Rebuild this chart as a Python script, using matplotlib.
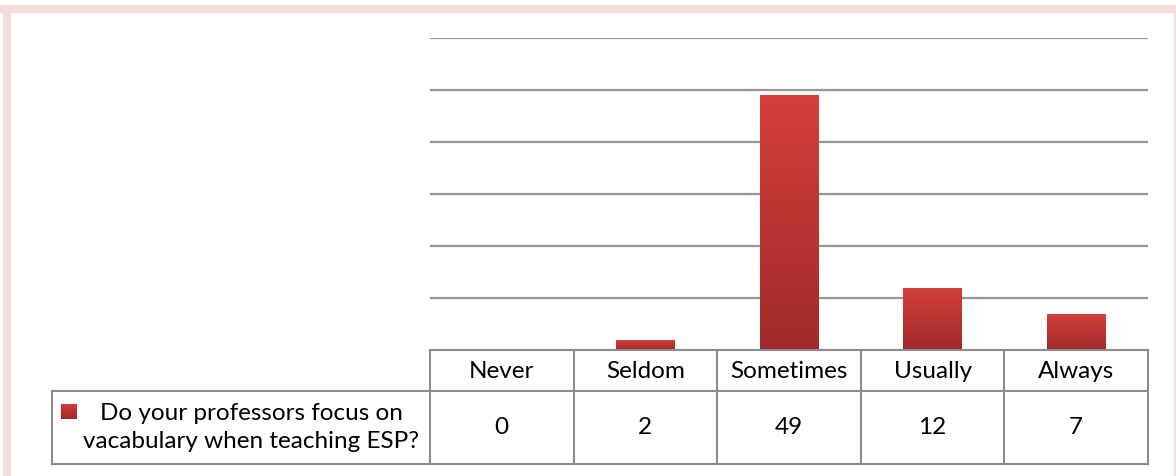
import numpy as np
import matplotlib.pyplot as plt
from matplotlib.lines import Line2D
from matplotlib.colors import LinearSegmentedColormap

categories = ['Never', 'Seldom', 'Sometimes', 'Usually', 'Always']
values = [0, 2, 49, 12, 7]
series_label = 'Do your professors focus on\nvacabulary when teaching ESP?'

W, H = 1176, 476
plt.rcParams['font.family'] = ['Lato', 'DejaVu Sans']

fig = plt.figure(figsize=(W / 100, H / 100), dpi=100)

def fx(px):
    return px / W

def fy(py):
    return 1 - py / H

# plot area in pixels
left, right, top, base = 430, 1148, 38, 350
ax = fig.add_axes([fx(left), fy(base), fx(right - left), (base - top) / H])
ax.set_xlim(-0.5, len(categories) - 0.5)
ax.set_ylim(0, 60)
ax.set_yticks(np.arange(10, 61, 10))
ax.yaxis.grid(True, color='#969696', linewidth=1.6)
ax.set_axisbelow(True)
for s in ax.spines.values():
    s.set_visible(False)
ax.tick_params(left=False, bottom=False, labelleft=False, labelbottom=False)

grad = LinearSegmentedColormap.from_list('red', ['#a02a2a', '#d43f3a'])
x = np.arange(len(categories))
bars = ax.bar(x, values, width=0.41, color='#c0393a', zorder=2)
gimg = np.linspace(0, 1, 100).reshape(-1, 1)
for b in bars:
    if b.get_height() <= 0:
        continue
    x0, w, h = b.get_x(), b.get_width(), b.get_height()
    im = ax.imshow(gimg, cmap=grad, origin='lower', aspect='auto',
                   extent=[x0, x0 + w, 0, h], zorder=3)
    im.set_clip_path(b)
ax.set_xlim(-0.5, len(categories) - 0.5)
ax.set_ylim(0, 60)

# data table
lc = '#8c8c8c'
lw = 1.5
row1, row2 = 391, 464
lab_left = 52
col_w = (right - left) / len(categories)
fs = 17.5

def hline(y, x0, x1):
    fig.add_artist(Line2D([fx(x0), fx(x1)], [fy(y), fy(y)], color=lc, lw=lw))

def vline(xp, y0, y1):
    fig.add_artist(Line2D([fx(xp), fx(xp)], [fy(y0), fy(y1)], color=lc, lw=lw))

hline(base, left, right)
hline(row1, lab_left, right)
hline(row2, lab_left, right)
vline(lab_left, row1, row2)
for i in range(len(categories) + 1):
    vline(left + i * col_w, base, row2)

for i, (c, v) in enumerate(zip(categories, values)):
    cx = left + (i + 0.5) * col_w
    fig.text(fx(cx), fy((base + row1) / 2 + 1), c, ha='center', va='center', fontsize=fs)
    fig.text(fx(cx), fy((row1 + row2) / 2), str(v), ha='center', va='center', fontsize=fs)

# legend key
kax = fig.add_axes([fx(61), fy(419), fx(16), 15 / H])
kax.imshow(gimg, cmap=grad, origin='lower', aspect='auto')
kax.axis('off')
fig.text(fx(251), fy((row1 + row2) / 2), series_label, ha='center', va='center',
         fontsize=fs, linespacing=1.4)

# pink outer border
pink = '#f2dcdc'
fig.add_artist(Line2D([fx(7), fx(7)], [fy(9), 0], color=pink, lw=6))
fig.add_artist(Line2D([fx(4), fx(1175)], [fy(9), fy(9)], color=pink, lw=6))
fig.add_artist(Line2D([fx(1174.5), fx(1174.5)], [fy(9), 0], color=pink, lw=1.5))

fig.savefig('out.png', dpi=100)
